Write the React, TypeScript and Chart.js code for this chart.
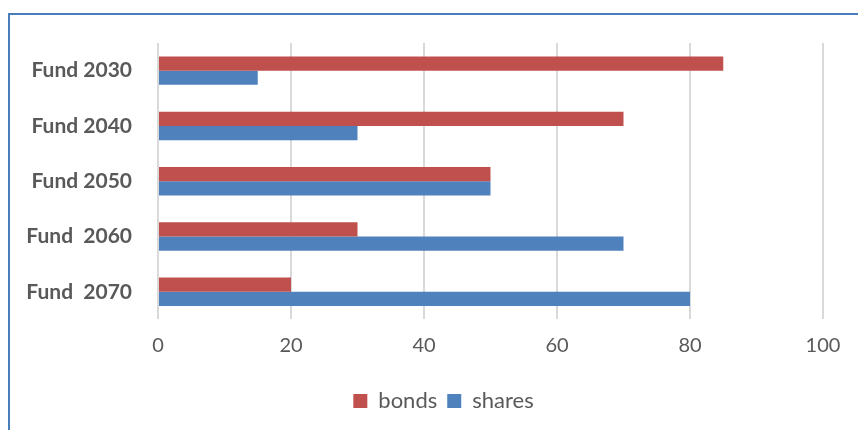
import React, { useEffect, useRef } from "react";
import { Chart, registerables } from "chart.js";

Chart.register(...registerables);

const categories = ["Fund 2030", "Fund 2040", "Fund 2050", "Fund  2060", "Fund  2070"];
const bonds = [85, 70, 50, 30, 20];
const shares = [15, 30, 50, 70, 80];
const xTicks = [0, 20, 40, 60, 80, 100];

const FONT = "Lato, 'Open Sans', sans-serif";
const TEXT = "#595959";

const shiftLegend = {
  id: "shiftLegend",
  afterLayout(chart: any) {
    if (chart.legend) chart.legend.left = 64;
  },
};

export default function App() {
  const ref = useRef<HTMLCanvasElement | null>(null);
  useEffect(() => {
    if (!ref.current) return;
    const chart = new Chart(ref.current, {
      type: "bar",
      data: {
        labels: categories,
        datasets: [
          { label: "bonds", data: bonds, backgroundColor: "#C0504D", borderWidth: 0 },
          { label: "shares", data: shares, backgroundColor: "#4F81BD", borderWidth: 0 },
        ],
      },
      options: {
        indexAxis: "y",
        animation: false,
        responsive: false,
        maintainAspectRatio: false,
        layout: { padding: { top: 43, right: 35, bottom: 8, left: 0 } },
        datasets: { bar: { categoryPercentage: 0.515, barPercentage: 1 } },
        scales: {
          x: {
            min: 0,
            max: 100,
            afterBuildTicks: (s: any) => { s.ticks = xTicks.map((v) => ({ value: v })); },
            afterFit: (s: any) => { s.height = 60.6; },
            grid: { color: "#D9D9D9", lineWidth: 2, drawTicks: false },
            border: { display: false },
            ticks: { color: TEXT, font: { family: FONT, size: 20 }, padding: 14 },
          },
          y: {
            afterFit: (s: any) => { s.width = 158; },
            grid: { display: false },
            border: { display: false },
            ticks: { color: TEXT, font: { family: FONT, size: 21, weight: "bold" }, padding: 18 },
          },
        },
        plugins: {
          legend: {
            position: "bottom",
            labels: { color: TEXT, font: { family: FONT, size: 22 }, boxWidth: 14, boxHeight: 14, padding: 10 },
          },
          tooltip: { enabled: false },
        },
      },
      plugins: [shiftLegend],
    });
    return () => chart.destroy();
  }, []);
  return (
    <>
      <div
        style={{
          position: "absolute",
          left: 8,
          top: 13,
          width: 850,
          height: 417,
          boxSizing: "border-box",
          borderTop: "2px solid #4A7EBB",
          borderLeft: "2px solid #4A7EBB",
        }}
      />
      <canvas ref={ref} width={858} height={430} style={{ position: "absolute", left: 0, top: 0 }} />
    </>
  );
}
